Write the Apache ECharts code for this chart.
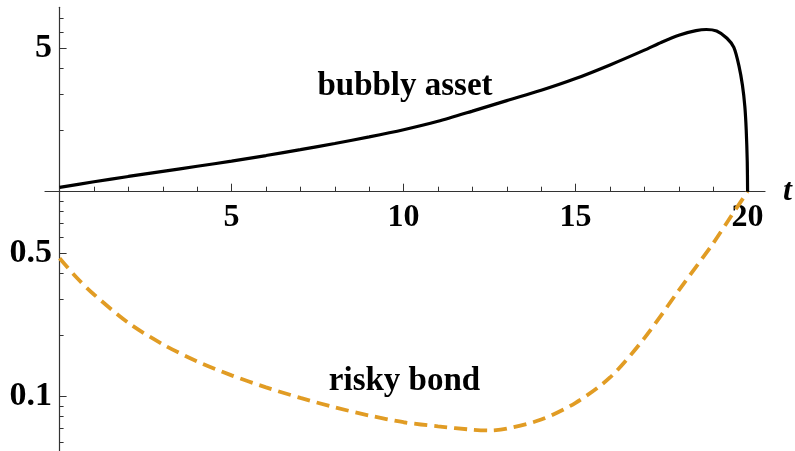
<!DOCTYPE html>
<html>
<head>
<meta charset="utf-8">
<script src="https://cdn.jsdelivr.net/npm/echarts@6/dist/echarts.min.js"></script>
<style>
  html, body { margin: 0; padding: 0; background: #fff; }
  #main { width: 795px; height: 451px; }
</style>
</head>
<body>
<div id="main"></div>
<script>
// time grid and values of the bubbly asset (log scale, crosses the t axis at 1)
const tAsset = [0, 1, 2, 3, 4, 5, 6, 7, 8, 9, 10, 11, 12, 13, 14, 15, 16, 17, 17.5, 18, 18.5, 18.8, 19.1, 19.4, 19.6, 19.75, 19.85, 19.92, 19.96, 19.99, 20];
const bubblyAsset = [1.05, 1.117, 1.186, 1.256, 1.33, 1.409, 1.50, 1.603, 1.718, 1.849, 2.004, 2.203, 2.47, 2.78, 3.12, 3.56, 4.15, 4.90, 5.36, 5.80, 6.10, 6.18, 6.07, 5.60, 5.05, 4.10, 3.30, 2.60, 2.00, 1.40, 1.00];

// time grid and values of the risky bond
const tBond = [0, 0.5, 1, 2, 3, 4, 5, 6, 7, 8, 9, 10, 11, 12, 12.5, 13, 14, 15, 16, 17, 18, 19, 19.5, 20];
const riskyBond = [0.473, 0.38, 0.315, 0.229, 0.180, 0.1486, 0.127, 0.111, 0.0986, 0.0887, 0.0809, 0.0750, 0.0716, 0.0690, 0.0684, 0.0698, 0.0773, 0.0933, 0.124, 0.193, 0.33, 0.56, 0.75, 1.0];

// vertical ticks
const yMajorTicks = [5, 0.5, 0.1];
const yMajorLabels = ['5', '0.5', '0.1'];
const yMinorTicks = [2, 3, 4, 6, 7, 0.9, 0.8, 0.7, 0.6, 0.4, 0.3, 0.2, 0.09, 0.08, 0.07, 0.06];

// labels
const assetLabel = 'bubbly asset';
const bondLabel = 'risky bond';
const timeName = 't';

const FONT = '"Liberation Serif", "Times New Roman", serif';
const AXIS_COLOR = '#333';
const FS = 32;

const chart = echarts.init(document.getElementById('main'), null, { renderer: 'canvas' });

const yMin = 0.0543, yMax = 7.93;

chart.setOption({
  animation: false,
  backgroundColor: '#fff',
  grid: [
    { left: 59.6, width: 688, top: 7.3, height: 443.7 },
    { left: 59.6, width: 688, top: 0, height: 191.7 },
    { left: 45, width: 720, top: 0, height: 191.7 }
  ],
  xAxis: [
    { gridIndex: 0, type: 'value', min: 0, max: 20, show: false },
    {
      gridIndex: 1, type: 'value', min: 0, max: 20, interval: 5,
      axisLine: { show: false },
      axisTick: { show: true, inside: true, length: 8, lineStyle: { color: AXIS_COLOR, width: 1 } },
      minorTick: { show: true, splitNumber: 5, length: 5, lineStyle: { color: AXIS_COLOR, width: 1 } },
      axisLabel: {
        margin: 10, color: '#000', fontFamily: FONT, fontWeight: 'bold', fontSize: FS,
        formatter: v => (v === 0 ? '' : String(v))
      },
      splitLine: { show: false }
    },
    {
      gridIndex: 2, type: 'value', min: 0, max: 1,
      axisLine: { show: true, lineStyle: { color: AXIS_COLOR, width: 1.2 } },
      axisTick: { show: false }, axisLabel: { show: false }, splitLine: { show: false },
      name: timeName, nameLocation: 'end', nameGap: 18,
      nameTextStyle: { color: '#000', fontFamily: FONT, fontWeight: 'bold', fontStyle: 'italic', fontSize: FS, verticalAlign: 'middle' }
    }
  ],
  yAxis: [
    {
      gridIndex: 0, type: 'log', min: yMin, max: yMax, position: 'left',
      axisLine: { show: true, lineStyle: { color: AXIS_COLOR, width: 1.2 } },
      axisTick: { show: true, inside: true, length: 7, customValues: yMajorTicks, lineStyle: { color: AXIS_COLOR, width: 1 } },
      axisLabel: {
        show: true, customValues: yMajorTicks, margin: 7.6, color: '#000',
        fontFamily: FONT, fontWeight: 'bold', fontSize: FS + 2,
        formatter: v => {
          for (let i = 0; i < yMajorTicks.length; i++) {
            if (Math.abs(v - yMajorTicks[i]) < 1e-6 * yMajorTicks[i]) return yMajorLabels[i];
          }
          return '';
        }
      },
      splitLine: { show: false }
    },
    {
      gridIndex: 0, type: 'log', min: yMin, max: yMax, position: 'left',
      axisLine: { show: false },
      axisTick: { show: true, inside: true, length: 4, customValues: yMinorTicks, lineStyle: { color: AXIS_COLOR, width: 1 } },
      axisLabel: { show: false },
      splitLine: { show: false }
    },
    { gridIndex: 1, type: 'value', show: false },
    { gridIndex: 2, type: 'value', show: false }
  ],
  series: [
    {
      type: 'line', xAxisIndex: 0, yAxisIndex: 0,
      data: tAsset.map((t, i) => [t, bubblyAsset[i]]),
      showSymbol: false, symbol: 'none',
      smooth: 0.25,
      lineStyle: { color: '#000', width: 3.2 },
      z: 3
    },
    {
      type: 'line', xAxisIndex: 0, yAxisIndex: 0,
      data: tBond.map((t, i) => [t, riskyBond[i]]),
      showSymbol: false, symbol: 'none',
      smooth: 0.3,
      lineStyle: { color: '#E19C24', width: 3.8, type: [13, 7] },
      z: 2
    }
  ],
  graphic: [
    {
      type: 'text', x: 405, y: 86,
      style: { text: assetLabel, font: 'bold ' + (FS + 1) + 'px ' + FONT, fill: '#000', align: 'center', verticalAlign: 'middle' }
    },
    {
      type: 'text', x: 404.5, y: 381,
      style: { text: bondLabel, font: 'bold ' + (FS + 1) + 'px ' + FONT, fill: '#000', align: 'center', verticalAlign: 'middle' }
    }
  ]
});
</script>
</body>
</html>
